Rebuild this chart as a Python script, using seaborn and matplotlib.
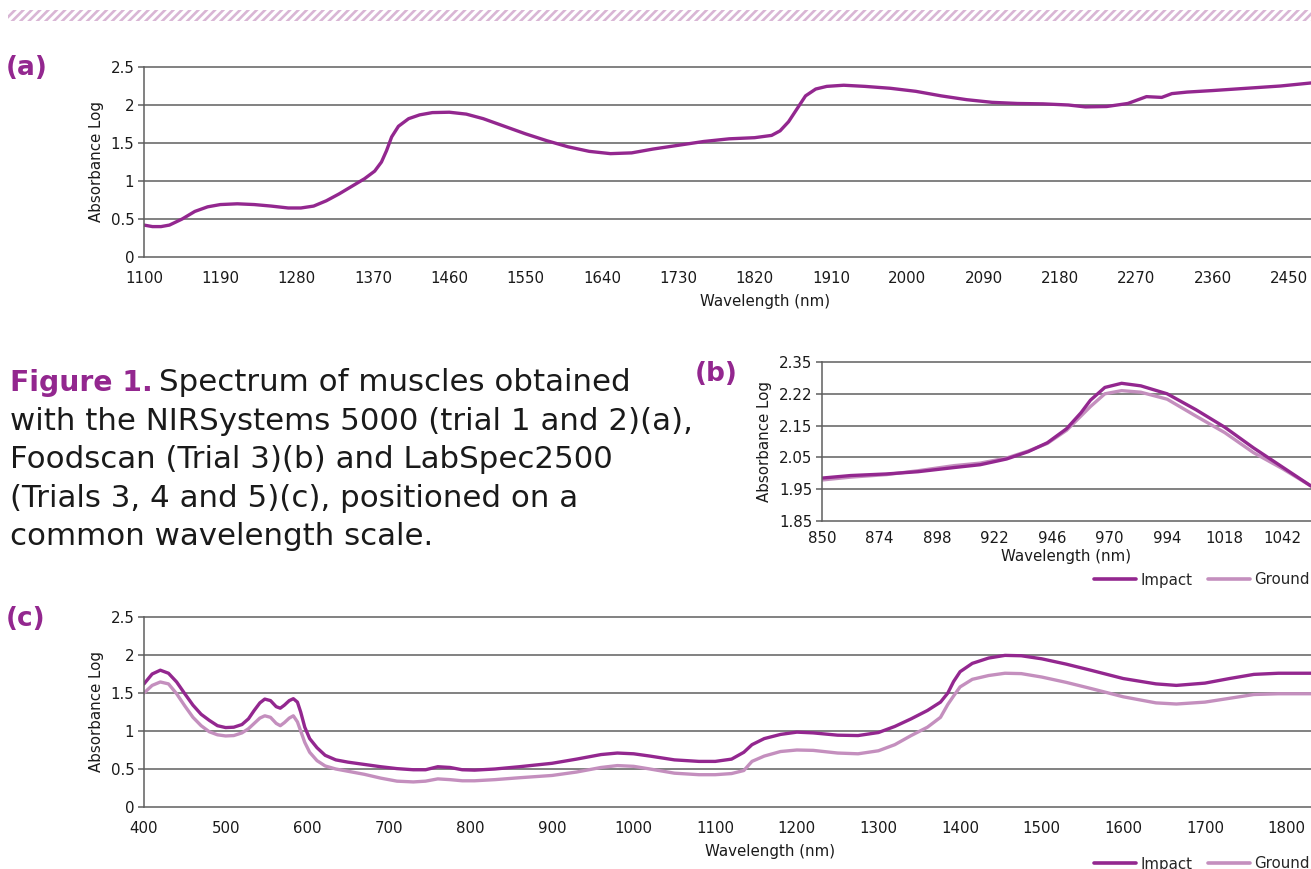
import numpy as np
import pandas as pd
import matplotlib
matplotlib.use("Agg")
import matplotlib.pyplot as plt
import seaborn as sns
from matplotlib.patches import Rectangle
from matplotlib.lines import Line2D

# ---------------- data ----------------
a_nm = [1100, 1110, 1120, 1130, 1145, 1160, 1175, 1190, 1210, 1230, 1250, 1270, 1285, 1300,
        1315, 1330, 1345, 1360, 1372, 1380, 1386, 1392, 1400, 1412, 1425, 1440, 1460, 1480,
        1500, 1525, 1550, 1575, 1600, 1625, 1650, 1675, 1700, 1730, 1760, 1790, 1820, 1840,
        1850, 1860, 1870, 1880, 1892, 1905, 1925, 1950, 1980, 2010, 2040, 2070, 2100, 2130,
        2160, 2190, 2210, 2235, 2260, 2282, 2300, 2312, 2330, 2360, 2400, 2440, 2476]
a_abs = [0.42, 0.40, 0.40, 0.42, 0.50, 0.60, 0.66, 0.69, 0.70, 0.69, 0.67, 0.645, 0.645, 0.67,
         0.74, 0.83, 0.93, 1.03, 1.13, 1.25, 1.40, 1.58, 1.72, 1.82, 1.87, 1.90, 1.905, 1.88,
         1.82, 1.72, 1.62, 1.53, 1.45, 1.39, 1.36, 1.37, 1.42, 1.47, 1.52, 1.555, 1.57, 1.60,
         1.66, 1.78, 1.95, 2.12, 2.21, 2.245, 2.26, 2.245, 2.22, 2.18, 2.12, 2.07, 2.035, 2.02,
         2.015, 2.0, 1.975, 1.98, 2.02, 2.11, 2.10, 2.15, 2.17, 2.19, 2.22, 2.25, 2.29]
a_xticks = [1100, 1190, 1280, 1370, 1460, 1550, 1640, 1730, 1820, 1910, 2000, 2090, 2180,
            2270, 2360, 2450]

b_nm = [850, 862, 877, 890, 905, 916, 927, 936, 944, 952, 958, 962, 968, 975, 983, 994,
        1006, 1018, 1030, 1042, 1054]
b_impact = [1.985, 1.993, 1.998, 2.005, 2.018, 2.027, 2.045, 2.068, 2.096, 2.14, 2.19, 2.23,
            2.27, 2.283, 2.275, 2.25, 2.20, 2.145, 2.08, 2.02, 1.96]
b_ground = [1.979, 1.988, 1.996, 2.008, 2.024, 2.032, 2.048, 2.07, 2.094, 2.135, 2.18, 2.21,
            2.25, 2.26, 2.255, 2.233, 2.18, 2.128, 2.065, 2.015, 1.96]
b_xticks = [850, 874, 898, 922, 946, 970, 994, 1018, 1042]
b_yticks = [1.85, 1.95, 2.05, 2.15, 2.25, 2.35]
b_ylabels = ["1.85", "1.95", "2.05", "2.15", "2.22", "2.35"]

c_nm = [400, 410, 420, 430, 440, 450, 460, 470, 480, 490, 500, 510, 520, 528, 535, 542, 548,
        555, 562, 567, 572, 578, 583, 588, 592, 597, 603, 612, 622, 635, 650, 670, 690, 710,
        730, 745, 760, 775, 790, 805, 830, 860, 900, 930, 960, 980, 1000, 1020, 1050, 1080,
        1100, 1120, 1135, 1145, 1160, 1180, 1200, 1220, 1250, 1275, 1300, 1320, 1340, 1360,
        1376, 1385, 1392, 1400, 1415, 1435, 1455, 1475, 1500, 1530, 1560, 1600, 1640, 1665,
        1700, 1730, 1760, 1790, 1830]
c_impact = [1.62, 1.75, 1.80, 1.76, 1.645, 1.49, 1.34, 1.22, 1.14, 1.07, 1.045, 1.05, 1.085,
            1.16, 1.27, 1.37, 1.42, 1.40, 1.32, 1.30, 1.34, 1.40, 1.425, 1.38, 1.25, 1.05,
            0.90, 0.78, 0.68, 0.62, 0.59, 0.56, 0.53, 0.505, 0.49, 0.49, 0.53, 0.52, 0.49,
            0.485, 0.50, 0.53, 0.575, 0.63, 0.69, 0.71, 0.70, 0.67, 0.62, 0.60, 0.60, 0.63,
            0.72, 0.82, 0.90, 0.955, 0.985, 0.975, 0.945, 0.94, 0.98, 1.06, 1.16, 1.27, 1.38,
            1.50, 1.65, 1.78, 1.89, 1.96, 1.995, 1.99, 1.95, 1.88, 1.80, 1.69, 1.62, 1.60,
            1.63, 1.69, 1.745, 1.76, 1.76]
c_ground = [1.50, 1.60, 1.645, 1.62, 1.49, 1.33, 1.18, 1.07, 0.99, 0.95, 0.935, 0.94, 0.975,
            1.03, 1.10, 1.17, 1.20, 1.18, 1.10, 1.07, 1.11, 1.17, 1.20, 1.12, 1.00, 0.85,
            0.72, 0.61, 0.54, 0.50, 0.47, 0.43, 0.38, 0.34, 0.33, 0.34, 0.37, 0.36, 0.345,
            0.345, 0.36, 0.385, 0.415, 0.46, 0.52, 0.545, 0.535, 0.50, 0.445, 0.425, 0.425,
            0.44, 0.48, 0.60, 0.67, 0.73, 0.75, 0.745, 0.71, 0.70, 0.74, 0.82, 0.94, 1.05,
            1.18, 1.35, 1.46, 1.58, 1.68, 1.73, 1.76, 1.755, 1.71, 1.64, 1.56, 1.45, 1.37,
            1.355, 1.38, 1.43, 1.48, 1.49, 1.49]
c_xticks = [400, 500, 600, 700, 800, 900, 1000, 1100, 1200, 1300, 1400, 1500, 1600, 1700, 1800]

ac_yticks = [0, 0.5, 1, 1.5, 2, 2.5]
ac_ylabels = ["0", "0.5", "1", "1.5", "2", "2.5"]
series_names = ["Impact", "Ground"]

# ---------------- style ----------------
W, H = 1311, 869
sns.set_theme(style="white")
plt.rcParams["font.family"] = ["DejaVu Sans"]
plt.rcParams["hatch.linewidth"] = 1.9
plt.rcParams["hatch.color"] = "#D9B6D5"

DARK = "#93278F"
LIGHT = "#C48FBE"
GRID = "#5f5f5f"
TXT = "#1a1a1a"
FS = 10.8
palette = {"Impact": DARK, "Ground": LIGHT}

fig = plt.figure(figsize=(W / 100, H / 100), dpi=100)
fig.patch.set_facecolor("white")


def px_axes(left, top, right, bottom):
    return fig.add_axes([left / W, 1 - bottom / H, (right - left) / W, (bottom - top) / H])


def style_axes(ax, xticks, yticks, ylabels, xlim, ylim):
    ax.set_xlim(*xlim)
    ax.set_ylim(*ylim)
    ax.set_xticks(xticks)
    ax.set_xticklabels([str(t) for t in xticks])
    ax.set_yticks(yticks)
    ax.set_yticklabels(ylabels)
    ax.grid(axis="y", color=GRID, lw=1.1)
    ax.grid(axis="x", visible=False)
    for s in ["top", "right", "bottom"]:
        ax.spines[s].set_visible(False)
    ax.spines["left"].set_color(GRID)
    ax.spines["left"].set_linewidth(1.1)
    ax.tick_params(axis="y", left=True, length=4, width=1.1, color=GRID, pad=3,
                   labelsize=FS, labelcolor=TXT)
    ax.tick_params(axis="x", bottom=False, pad=4, labelsize=FS, labelcolor=TXT)
    ax.set_facecolor("white")
    for ln in ax.get_ygridlines():
        ln.set_clip_on(False)


# ---------- panel (a) ----------
axa = px_axes(144, 67, 1311, 257)
dfa = pd.DataFrame({"nm": a_nm, "abs": a_abs, "series": "Impact"})
sns.lineplot(data=dfa, x="nm", y="abs", color=DARK, lw=2.4, ax=axa, legend=False)
style_axes(axa, a_xticks, ac_yticks, ac_ylabels, (1100, 2476), (0, 2.5))
axa.set_xlabel("Wavelength (nm)", fontsize=FS, color=TXT)
axa.set_ylabel("Absorbance Log", fontsize=FS, color=TXT)
axa.xaxis.set_label_coords((765 - 144) / (1311 - 144), -0.195)
axa.yaxis.set_label_coords(-0.034, 0.5)

# ---------- panel (b) ----------
axb = px_axes(822, 362, 1311, 521)
dfb = pd.DataFrame({"nm": b_nm * 2, "abs": b_impact + b_ground,
                    "series": ["Impact"] * len(b_nm) + ["Ground"] * len(b_nm)})
sns.lineplot(data=dfb, x="nm", y="abs", hue="series", hue_order=["Ground", "Impact"],
             palette=palette, lw=2.4, ax=axb, legend=False)
style_axes(axb, b_xticks, b_yticks, b_ylabels, (850, 1054), (1.85, 2.35))
axb.tick_params(axis="x", pad=1.5)
axb.set_xlabel("Wavelength (nm)", fontsize=FS, color=TXT, labelpad=2)
axb.set_ylabel("Absorbance Log", fontsize=FS, color=TXT)
axb.yaxis.set_label_coords(-0.102, 0.5)

# ---------- panel (c) ----------
axc = px_axes(144, 617, 1311, 807)
dfc = pd.DataFrame({"nm": c_nm * 2, "abs": c_impact + c_ground,
                    "series": ["Impact"] * len(c_nm) + ["Ground"] * len(c_nm)})
sns.lineplot(data=dfc, x="nm", y="abs", hue="series", hue_order=["Ground", "Impact"],
             palette=palette, lw=2.4, ax=axc, legend=False)
style_axes(axc, c_xticks, ac_yticks, ac_ylabels, (400, 1830), (0, 2.5))
axc.set_xlabel("Wavelength (nm)", fontsize=FS, color=TXT)
axc.set_ylabel("Absorbance Log", fontsize=FS, color=TXT)
axc.xaxis.set_label_coords((770 - 144) / (1311 - 144), -0.195)
axc.yaxis.set_label_coords(-0.034, 0.5)

# ---------- legends ----------
handles = [Line2D([], [], color=palette[n], lw=2.6) for n in series_names]
for yc in (580, 864):
    fig.legend(handles, series_names, loc="center right", bbox_to_anchor=(1.0, 1 - yc / H),
               ncol=2, frameon=False, fontsize=FS, handlelength=2.8, handletextpad=0.3,
               columnspacing=1.0, borderaxespad=0, borderpad=0.1)

# ---------- panel letters ----------
for txt, x, y in [("(a)", 6, 68), ("(b)", 695, 374), ("(c)", 6, 619)]:
    fig.text(x / W, 1 - y / H, txt, fontsize=19, fontweight="bold", color=DARK,
             ha="left", va="center")

# ---------- top hatched band ----------
band = Rectangle((8 / W, 1 - 21 / H), (W - 8) / W, 11 / H, transform=fig.transFigure,
                 facecolor="none", edgecolor="#D9B6D5", hatch="////", lw=0)
fig.patches.append(band)

# ---------- caption ----------
cap_fs = 22.2
lines = ["Spectrum of muscles obtained",
         "with the NIRSystems 5000 (trial 1 and 2)(a),",
         "Foodscan (Trial 3)(b) and LabSpec2500",
         "(Trials 3, 4 and 5)(c), positioned on a",
         "common wavelength scale."]
baselines = [391, 430, 468, 507, 545]
t0 = fig.text(10 / W, 1 - baselines[0] / H, "Figure 1.", fontsize=20.3, fontweight="bold",
              color=DARK, ha="left", va="baseline")
fig.canvas.draw()
bb = t0.get_window_extent(renderer=fig.canvas.get_renderer())
fig.text((bb.x1 + 6) / W, 1 - baselines[0] / H, lines[0], fontsize=cap_fs, color=TXT,
         ha="left", va="baseline")
for ln, yb in zip(lines[1:], baselines[1:]):
    fig.text(10 / W, 1 - yb / H, ln, fontsize=cap_fs, color=TXT, ha="left",
             va="baseline")

fig.savefig("out.png", dpi=100, facecolor="white")
